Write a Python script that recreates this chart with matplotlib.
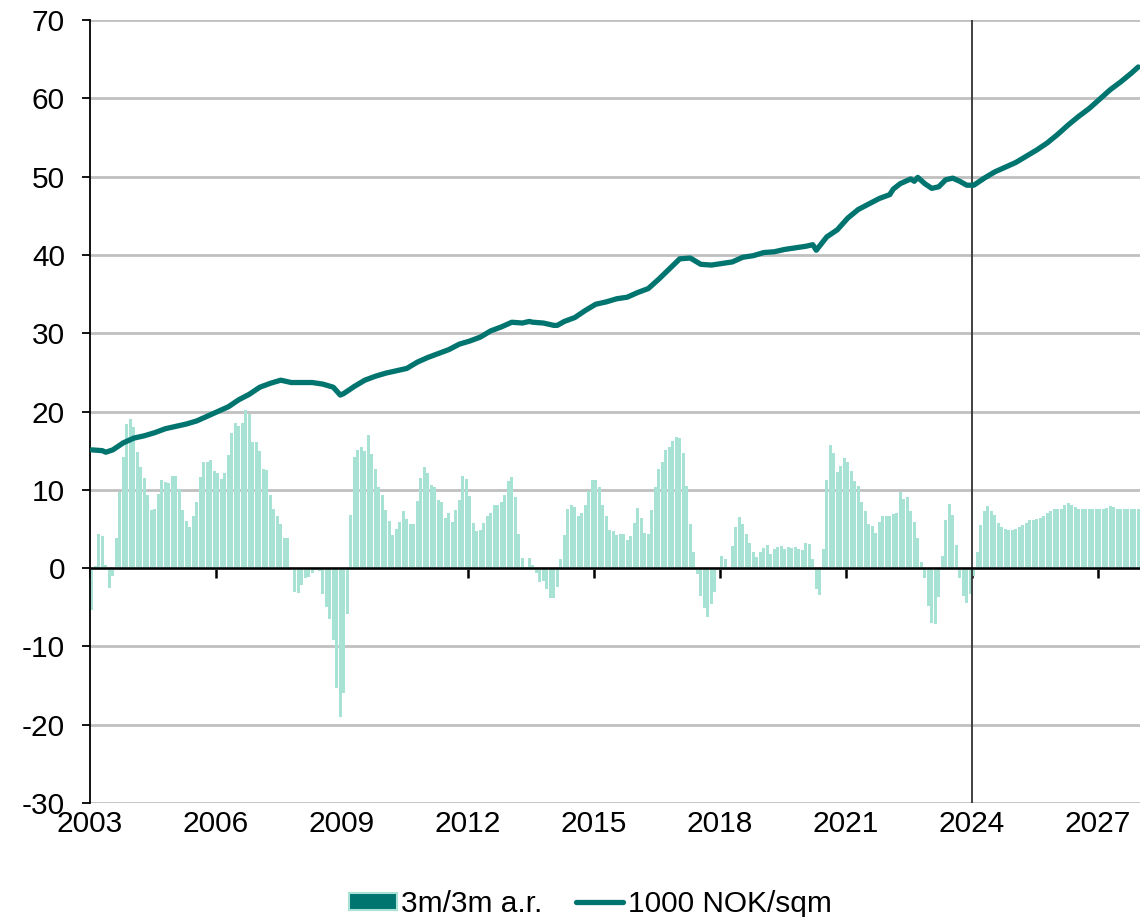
import numpy as np
import matplotlib
matplotlib.use("Agg")
import matplotlib.pyplot as plt
from matplotlib.patches import Patch
from matplotlib.lines import Line2D

plt.rcParams["font.family"] = ["Liberation Sans", "DejaVu Sans"]
plt.rcParams["axes.unicode_minus"] = False

# monthly data, first month Jan 2003
start_year = 2003

# 3m/3m annualised growth, one value per month (2003-01 .. 2027-12)
growth_3m3m = [
    -5.3, 0.3, 4.4, 4.1, 0.4, -2.6, -1.0, 3.8, 9.7, 14.2,
    18.4, 19.0, 18.0, 14.8, 12.9, 11.5, 9.3, 7.4, 7.6, 9.5,
    11.3, 11.0, 10.9, 11.7, 11.8, 10.1, 7.4, 6.0, 5.3, 6.7,
    8.4, 11.6, 13.5, 13.6, 13.8, 12.4, 12.1, 11.4, 12.1, 14.5,
    17.2, 18.5, 18.2, 18.5, 20.2, 19.7, 16.1, 16.1, 15.0, 12.6,
    12.5, 9.3, 7.6, 6.7, 5.6, 3.9, 3.9, 0.0, -3.0, -3.2,
    -2.1, -1.3, -1.1, -0.6, 0.2, -0.4, -3.3, -5.0, -6.5, -9.2,
    -15.3, -19.0, -16.0, -5.8, 6.8, 14.2, 15.1, 15.5, 15.0, 17.0,
    14.6, 12.6, 10.4, 9.4, 7.4, 6.0, 4.2, 5.0, 5.9, 7.3,
    6.3, 5.6, 5.6, 8.6, 11.5, 12.9, 12.1, 10.6, 10.3, 8.7,
    8.5, 6.4, 7.1, 5.9, 7.4, 8.7, 11.7, 11.4, 9.2, 5.8,
    4.7, 4.9, 5.7, 6.6, 7.1, 8.0, 8.1, 8.4, 9.4, 11.1,
    11.6, 9.1, 4.4, 1.3, 0.2, 1.3, 0.4, -0.6, -1.8, -1.6,
    -2.7, -3.8, -3.8, -2.4, 1.2, 4.2, 7.5, 8.0, 7.8, 6.7,
    7.1, 8.1, 9.9, 11.2, 11.2, 10.3, 8.1, 6.7, 4.9, 4.7,
    4.2, 4.4, 4.3, 3.6, 4.1, 5.7, 7.7, 6.4, 4.5, 4.4,
    7.4, 10.3, 12.6, 13.5, 15.1, 15.5, 16.2, 16.8, 16.6, 14.7,
    10.5, 5.6, 2.1, -0.7, -3.6, -5.1, -6.2, -4.6, -3.1, 0.0,
    1.5, 1.1, 0.2, 2.8, 5.2, 6.5, 5.6, 4.3, 3.2, 2.1,
    1.4, 2.0, 2.6, 2.9, 1.8, 2.4, 2.7, 2.8, 2.5, 2.7,
    2.6, 2.7, 2.4, 2.3, 3.2, 3.1, 1.2, -2.7, -3.4, 2.4,
    11.2, 15.7, 14.7, 12.3, 13.1, 14.1, 13.6, 12.4, 11.1, 10.5,
    8.5, 7.3, 5.6, 5.4, 4.5, 5.9, 6.6, 6.6, 6.7, 6.9,
    7.0, 9.7, 8.8, 9.1, 7.3, 5.9, 3.8, 0.8, -1.2, -4.9,
    -7.0, -7.2, -3.7, 1.5, 6.2, 8.2, 6.8, 2.9, -1.2, -3.5,
    -4.4, -3.3, -1.0, 2.1, 5.5, 7.3, 7.9, 7.3, 6.8, 5.8,
    5.3, 5.0, 4.9, 4.9, 5.0, 5.2, 5.5, 5.8, 6.1, 6.2,
    6.3, 6.4, 6.7, 7.1, 7.3, 7.5, 7.5, 7.6, 8.0, 8.3,
    8.1, 7.8, 7.5, 7.5, 7.5, 7.5, 7.5, 7.5, 7.5, 7.5,
    7.7, 7.9, 7.8, 7.6, 7.5, 7.5, 7.5, 7.5, 7.5, 7.5,
]

# price level (1000 NOK/sqm), months since Jan 2003 and value
price_month = [
    0, 3, 4, 6, 9, 12, 15, 18, 21, 24, 27, 30, 33, 36, 39, 42, 45, 48, 51, 54,
    57, 60, 63, 66, 69, 71, 72, 75, 78, 81, 84, 87, 90, 93, 96, 99, 102, 105,
    108, 111, 114, 117, 120, 123, 125, 126, 129, 132, 133, 135, 138, 141, 144,
    147, 150, 153, 156, 159, 162, 165, 168, 171, 174, 177, 180, 183, 186, 189,
    192, 195, 198, 201, 204, 206, 207, 210, 213, 216, 219, 222, 225, 228, 229,
    231, 234, 235, 236, 238, 240, 242, 244, 246, 248, 250, 252, 255, 258, 261,
    264, 267, 270, 273, 276, 279, 282, 285, 288, 291, 294, 297, 299,
]
price_level = [
    15.1, 15.0, 14.8, 15.1, 16.0, 16.6, 16.9, 17.3, 17.8, 18.1, 18.4, 18.8,
    19.4, 20.0, 20.6, 21.5, 22.2, 23.1, 23.6, 24.0,
    23.7, 23.7, 23.7, 23.5, 23.1, 22.1, 22.3, 23.2, 24.0, 24.5, 24.9, 25.2,
    25.5, 26.3, 26.9, 27.4, 27.9, 28.6,
    29.0, 29.5, 30.3, 30.8, 31.4, 31.3, 31.5, 31.4, 31.3, 31.0, 31.0, 31.5,
    32.0, 32.9, 33.7,
    34.0, 34.4, 34.6, 35.2, 35.7, 36.9, 38.2, 39.5, 39.6, 38.8, 38.7, 38.9,
    39.1, 39.7, 39.9,
    40.3, 40.4, 40.7, 40.9, 41.1, 41.3, 40.6, 42.3, 43.2, 44.7, 45.8, 46.5,
    47.2, 47.7, 48.4,
    49.1, 49.7, 49.4, 49.9, 49.1, 48.5, 48.7, 49.6, 49.8, 49.4, 48.9, 48.9,
    49.8, 50.6, 51.2,
    51.8, 52.6, 53.4, 54.3, 55.4, 56.6, 57.7, 58.7, 59.9, 61.1, 62.1, 63.2, 64.0,
]

year_ticks = [2003, 2006, 2009, 2012, 2015, 2018, 2021, 2024, 2027]
forecast_start = 2024

bar_color = "#a7e2d4"
line_color = "#00746f"
grid_color = "#c0c0c0"
font_size = 21.5

fig = plt.figure(figsize=(11.4, 9.17), dpi=100)
ax = fig.add_axes([0.079, 0.1243, 0.921, 0.8539])

n = len(growth_3m3m)
bar_x = start_year + (np.arange(n) + 0.5) / 12
ax.bar(bar_x, growth_3m3m, width=0.92 / 12, color=bar_color, zorder=1)

line_x = start_year + (np.array(price_month) + 0.5) / 12
ax.plot(line_x, price_level, color=line_color, lw=3.8,
        solid_capstyle="round", solid_joinstyle="round", zorder=4)

ax.axvline(forecast_start, color="#333333", lw=1.3, zorder=3)

ax.set_xlim(start_year, start_year + n / 12)
ax.set_ylim(-30, 70)
ax.set_yticks(range(-30, 71, 10))
ax.yaxis.grid(True, color=grid_color, lw=2)
ax.set_axisbelow(True)

for side in ["top", "right"]:
    ax.spines[side].set_visible(False)
ax.spines["left"].set_linewidth(1.3)
ax.spines["bottom"].set_position(("data", 0))
ax.spines["bottom"].set_linewidth(1.8)
ax.spines["bottom"].set_zorder(3)

ax.set_xticks(year_ticks)
ax.tick_params(axis="x", direction="out", length=7, width=1.8, labelbottom=False)
ax.tick_params(axis="y", direction="out", length=6, width=1.3, pad=12,
               labelsize=font_size)

sec = ax.secondary_xaxis(0)
sec.set_xticks(year_ticks)
sec.set_xticklabels([str(y) for y in year_ticks])
sec.tick_params(length=0, pad=5, labelsize=font_size)
sec.spines["bottom"].set_visible(False)

handles = [
    Patch(facecolor=line_color, edgecolor=bar_color, lw=1.5),
    Line2D([0], [0], color=line_color, lw=3.8, solid_capstyle="round"),
]
fig.legend(handles, ["3m/3m a.r.", "1000 NOK/sqm"], loc="lower center",
           bbox_to_anchor=(0.518, -0.03), ncol=2, frameon=False, fontsize=font_size,
           handlelength=1.6, handleheight=0.5, handletextpad=0.15, columnspacing=1.1)

fig.savefig("out.png", dpi=100)
